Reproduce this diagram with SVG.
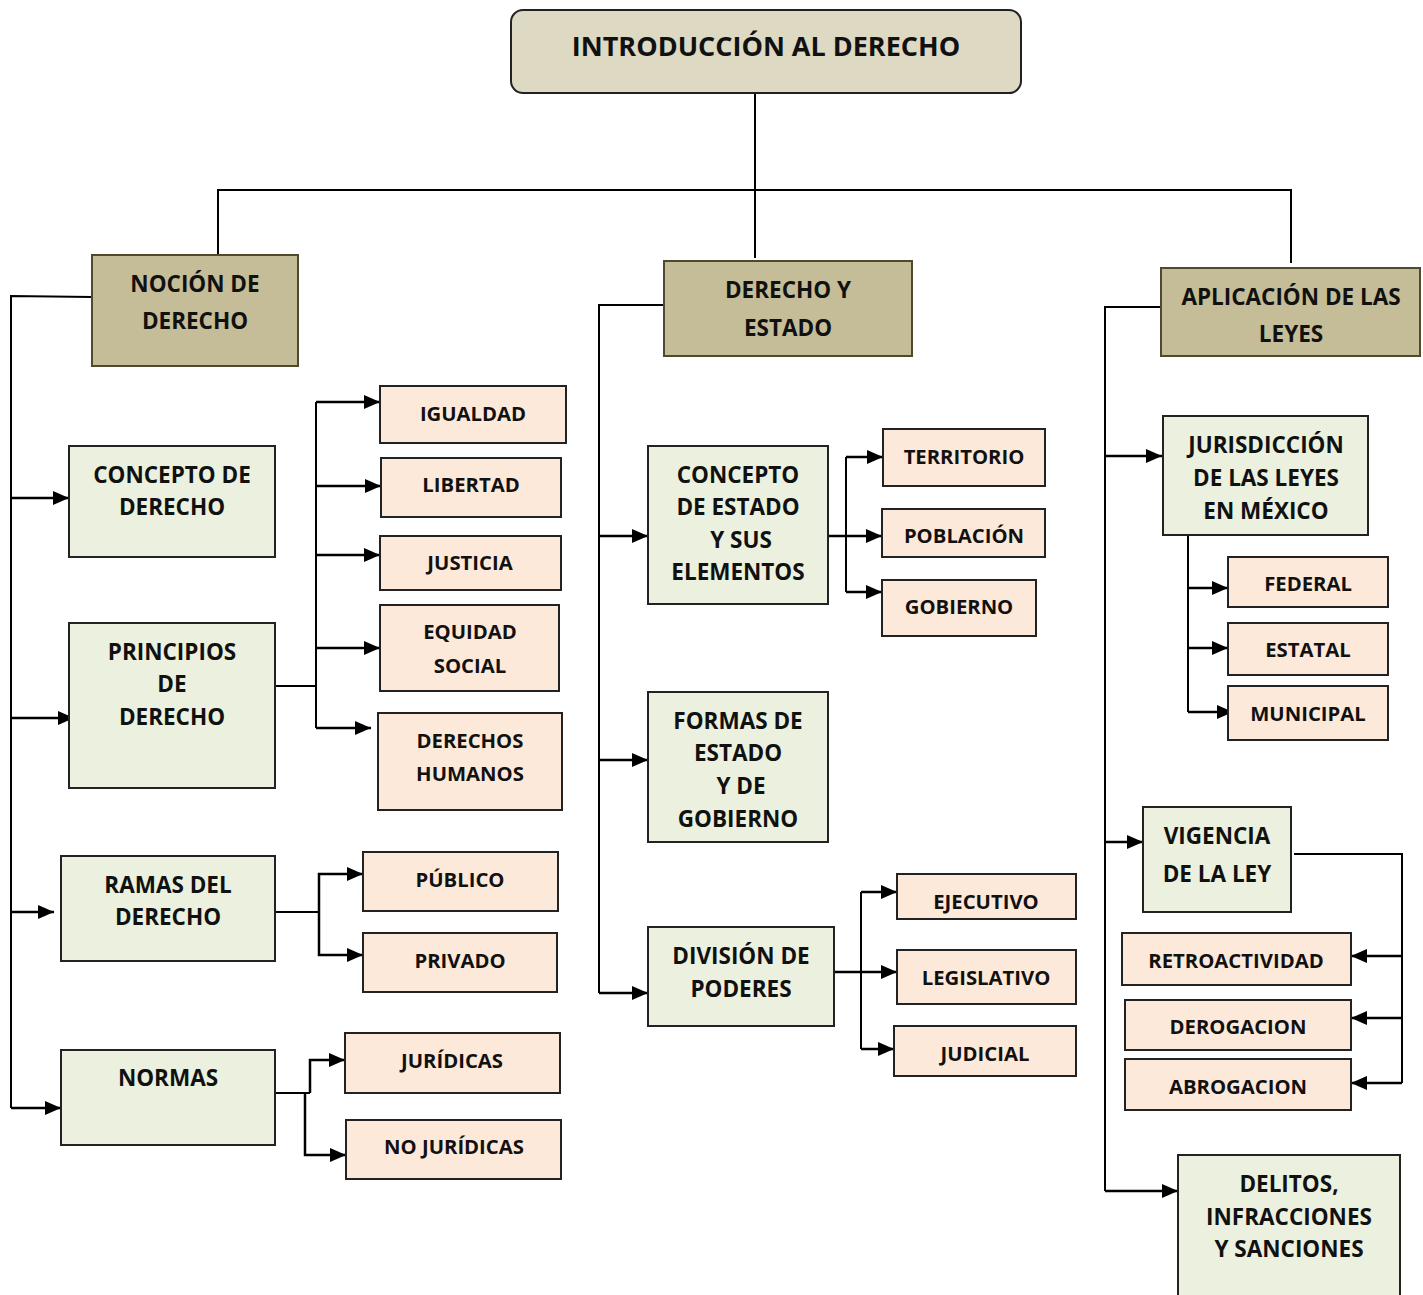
<svg xmlns="http://www.w3.org/2000/svg" width="1423" height="1295" viewBox="0 0 1423 1295">
<style>
text{font-family:"Open Sans","Noto Sans","Liberation Sans",sans-serif;font-weight:700;font-size:22.5px;fill:#111;text-anchor:middle;dominant-baseline:central}
.t{font-size:27px}
.s text{font-size:20.3px}
.g rect{fill:#ebf1de;stroke:#222;stroke-width:2}
.s rect{fill:#fde9d9;stroke:#222;stroke-width:2}
.k rect{fill:#c4bd97;stroke:#4f4a2e;stroke-width:2}
.c path{fill:none;stroke:#000;stroke-width:2}
.c .a{marker-end:url(#ah);stroke-width:2.5}
</style>
<defs>
<marker id="ah" markerUnits="userSpaceOnUse" markerWidth="16" markerHeight="14" refX="16" refY="7" orient="auto">
<path d="M0,0 L16,7 L0,14 z" fill="#000"/>
</marker>
</defs>
<rect width="1423" height="1295" fill="#fff"/>
<g id="connectors" class="c">
<path d="M755,93 V258"/>
<path d="M218,255 V190 H1291 V263"/>
<path d="M92,297 L11,296 V1108"/>
<path class="a" d="M11,498 H69"/>
<path class="a" d="M11,718 H74"/>
<path class="a" d="M11,912 H54"/>
<path class="a" d="M11,1108 H61"/>
<path d="M275,686 H316"/>
<path d="M316,402 V728"/>
<path class="a" d="M316,402 H380"/>
<path class="a" d="M316,486 H381"/>
<path class="a" d="M316,555 H380"/>
<path class="a" d="M316,648 H380"/>
<path class="a" d="M316,728 H371"/>
<path d="M275,912 H319"/>
<path class="a" d="M319,912 V874 H363"/>
<path class="a" d="M319,912 V955 H363"/>
<path d="M275,1093 H310"/>
<path class="a" d="M310,1093 V1060 H345"/>
<path class="a" d="M305,1093 V1155 H346"/>
<path d="M664,305 H599 V993"/>
<path class="a" d="M599,536 H648"/>
<path class="a" d="M599,760 H648"/>
<path class="a" d="M599,993 H648"/>
<path class="a" d="M828,536 H882"/>
<path d="M846,457 V592"/>
<path class="a" d="M846,457 H883"/>
<path class="a" d="M846,592 H882"/>
<path class="a" d="M834,972 H897"/>
<path d="M861,892 V1049"/>
<path class="a" d="M861,892 H897"/>
<path class="a" d="M861,1049 H894"/>
<path d="M1161,307 H1105 V1191"/>
<path class="a" d="M1105,456 H1162"/>
<path class="a" d="M1105,842 H1143"/>
<path class="a" d="M1105,1191 H1178"/>
<path d="M1188,535 V712"/>
<path class="a" d="M1188,588 H1228"/>
<path class="a" d="M1188,648 H1228"/>
<path class="a" d="M1188,712 H1233"/>
<path d="M1294,854 H1402 V1083"/>
<path class="a" d="M1402,956 H1351"/>
<path class="a" d="M1402,1018 H1351"/>
<path class="a" d="M1402,1083 H1351"/>
</g>
<g id="title">
<rect x="511" y="10" width="510" height="83" rx="12" fill="#ddd9c3" stroke="#222" stroke-width="2"/>
<text class="t" x="766" y="45">INTRODUCCIÓN AL DERECHO</text>
</g>
<g id="nocion" class="k">
<rect x="92" y="255" width="206" height="111"/>
<text x="195" y="283">NOCIÓN DE</text>
<text x="195" y="320">DERECHO</text>
</g>
<g id="derecho-estado" class="k">
<rect x="664" y="261" width="248" height="95"/>
<text x="788" y="289">DERECHO Y</text>
<text x="788" y="327">ESTADO</text>
</g>
<g id="aplicacion" class="k">
<rect x="1161" y="268" width="259" height="88"/>
<text x="1291" y="296">APLICACIÓN DE LAS</text>
<text x="1291" y="333">LEYES</text>
</g>
<g id="concepto-derecho" class="g">
<rect x="69" y="446" width="206" height="111"/>
<text x="172" y="474">CONCEPTO DE</text>
<text x="172" y="506">DERECHO</text>
</g>
<g id="principios" class="g">
<rect x="69" y="623" width="206" height="165"/>
<text x="172" y="651">PRINCIPIOS</text>
<text x="172" y="683">DE</text>
<text x="172" y="716">DERECHO</text>
</g>
<g id="ramas" class="g">
<rect x="61" y="856" width="214" height="105"/>
<text x="168" y="884">RAMAS DEL</text>
<text x="168" y="916">DERECHO</text>
</g>
<g id="normas" class="g">
<rect x="61" y="1050" width="214" height="95"/>
<text x="168" y="1077">NORMAS</text>
</g>
<g id="igualdad" class="s">
<rect x="380" y="386" width="186" height="57"/>
<text x="473" y="413">IGUALDAD</text>
</g>
<g id="libertad" class="s">
<rect x="381" y="458" width="180" height="59"/>
<text x="471" y="484">LIBERTAD</text>
</g>
<g id="justicia" class="s">
<rect x="380" y="536" width="181" height="54"/>
<text x="470" y="562">JUSTICIA</text>
</g>
<g id="equidad" class="s">
<rect x="380" y="605" width="179" height="86"/>
<text x="470" y="631">EQUIDAD</text>
<text x="470" y="665">SOCIAL</text>
</g>
<g id="derechos-humanos" class="s">
<rect x="378" y="713" width="184" height="97"/>
<text x="470" y="740">DERECHOS</text>
<text x="470" y="773">HUMANOS</text>
</g>
<g id="publico" class="s">
<rect x="363" y="852" width="195" height="59"/>
<text x="460" y="879">PÚBLICO</text>
</g>
<g id="privado" class="s">
<rect x="363" y="933" width="194" height="59"/>
<text x="460" y="960">PRIVADO</text>
</g>
<g id="juridicas" class="s">
<rect x="345" y="1033" width="215" height="60"/>
<text x="452" y="1060">JURÍDICAS</text>
</g>
<g id="no-juridicas" class="s">
<rect x="346" y="1120" width="215" height="59"/>
<text x="454" y="1146">NO JURÍDICAS</text>
</g>
<g id="concepto-estado" class="g">
<rect x="648" y="446" width="180" height="158"/>
<text x="738" y="474">CONCEPTO</text>
<text x="738" y="506">DE ESTADO</text>
<text x="741" y="539">Y SUS</text>
<text x="738" y="571">ELEMENTOS</text>
</g>
<g id="formas" class="g">
<rect x="648" y="692" width="180" height="150"/>
<text x="738" y="720">FORMAS DE</text>
<text x="738" y="752">ESTADO</text>
<text x="741" y="785">Y DE</text>
<text x="738" y="818">GOBIERNO</text>
</g>
<g id="division" class="g">
<rect x="648" y="927" width="186" height="99"/>
<text x="741" y="955">DIVISIÓN DE</text>
<text x="741" y="988">PODERES</text>
</g>
<g id="territorio" class="s">
<rect x="883" y="429" width="162" height="57"/>
<text x="964" y="456">TERRITORIO</text>
</g>
<g id="poblacion" class="s">
<rect x="882" y="509" width="163" height="48"/>
<text x="964" y="535">POBLACIÓN</text>
</g>
<g id="gobierno" class="s">
<rect x="882" y="580" width="154" height="56"/>
<text x="959" y="606">GOBIERNO</text>
</g>
<g id="ejecutivo" class="s">
<rect x="897" y="874" width="179" height="45"/>
<text x="986" y="901">EJECUTIVO</text>
</g>
<g id="legislativo" class="s">
<rect x="897" y="950" width="179" height="54"/>
<text x="986" y="977">LEGISLATIVO</text>
</g>
<g id="judicial" class="s">
<rect x="894" y="1026" width="182" height="50"/>
<text x="985" y="1053">JUDICIAL</text>
</g>
<g id="jurisdiccion" class="g">
<rect x="1163" y="416" width="205" height="119"/>
<text x="1266" y="444">JURISDICCIÓN</text>
<text x="1266" y="477">DE LAS LEYES</text>
<text x="1266" y="510">EN MÉXICO</text>
</g>
<g id="federal" class="s">
<rect x="1228" y="557" width="160" height="50"/>
<text x="1308" y="583">FEDERAL</text>
</g>
<g id="estatal" class="s">
<rect x="1228" y="623" width="160" height="52"/>
<text x="1308" y="649">ESTATAL</text>
</g>
<g id="municipal" class="s">
<rect x="1228" y="686" width="160" height="54"/>
<text x="1308" y="713">MUNICIPAL</text>
</g>
<g id="vigencia" class="g">
<rect x="1143" y="807" width="148" height="105"/>
<text x="1217" y="835">VIGENCIA</text>
<text x="1217" y="873">DE LA LEY</text>
</g>
<g id="retroactividad" class="s">
<rect x="1122" y="933" width="229" height="52"/>
<text x="1236" y="960">RETROACTIVIDAD</text>
</g>
<g id="derogacion" class="s">
<rect x="1125" y="1000" width="226" height="50"/>
<text x="1238" y="1026">DEROGACION</text>
</g>
<g id="abrogacion" class="s">
<rect x="1125" y="1059" width="226" height="51"/>
<text x="1238" y="1086">ABROGACION</text>
</g>
<g id="delitos" class="g">
<rect x="1178" y="1155" width="222" height="150"/>
<text x="1289" y="1183">DELITOS,</text>
<text x="1289" y="1216">INFRACCIONES</text>
<text x="1289" y="1248">Y SANCIONES</text>
</g>
</svg>
